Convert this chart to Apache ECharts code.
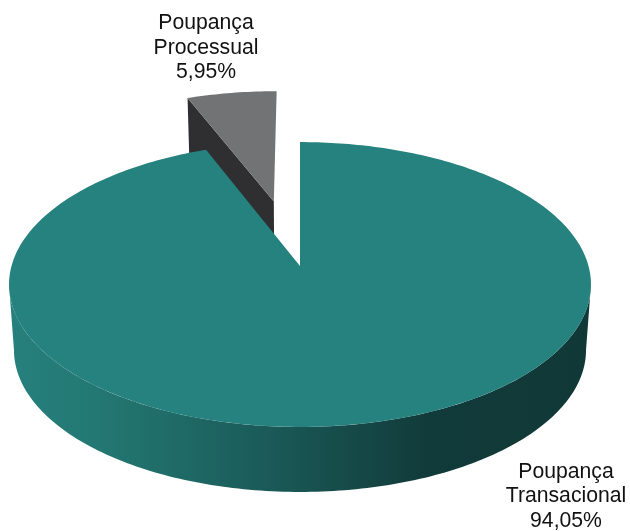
<!DOCTYPE html>
<html>
<head>
<meta charset="utf-8">
<style>html,body{margin:0;padding:0;background:#fff}#c{width:630px;height:531px}</style>
<script src="https://cdn.jsdelivr.net/npm/echarts@6/dist/echarts.min.js"></script>
</head>
<body>
<div id="c"></div>
<script>
// data
const categories = ['Poupança Processual', 'Poupança Transacional'];
const shares = [5.95, 94.05];
const exploded = [0.5, 0];

// colours
const faceColors = ['#727374', '#26827f'];
const cutColor = '#2f2f31';
const sideStops = [
  [0, '#26807c'], [0.15, '#237873'], [0.33, '#1e6663'], [0.5, '#185452'],
  [0.72, '#113b3a'], [1, '#103837']
];

// camera: perspective projection of the pie's top and bottom planes
const cam = { k: 0.13, cx: 300, topY: 266, topW: 288.5, topH: 140, botY: 331.5, botW: 283.6, botH: 139.6 };
function project(u, v, bottom) {
  const d = 1 + cam.k * v;
  return bottom
    ? [cam.cx + cam.botW * u / d, cam.botY - cam.botH * v / d]
    : [cam.cx + cam.topW * u / d, cam.topY - cam.topH * v / d];
}
const rad = a => a * Math.PI / 180;
function rim(a, off, bottom) {
  return project(off[0] + Math.sin(rad(a)), off[1] + Math.cos(rad(a)), bottom);
}
function arc(a0, a1, off, bottom) {
  const n = Math.max(2, Math.ceil(Math.abs(a1 - a0)));
  const out = [];
  for (let i = 0; i <= n; i++) out.push(rim(a0 + (a1 - a0) * i / n, off, bottom));
  return out;
}

const labelLayout = [[206, 48], [566, 496.5]];

function renderItem(params, api) {
  const i = params.dataIndex;
  const sweep = api.value(0) / 100 * 360;
  const children = [];
  if (i === 0) {
    // slice pulled out, running anticlockwise from twelve o'clock
    const m = rad(-sweep * 0.52);
    const off = [Math.sin(m) * exploded[i], Math.cos(m) * exploded[i]];
    children.push({ type: 'polygon', shape: { points: [
      rim(-sweep, off, false), project(off[0], off[1], false),
      project(off[0], off[1], true), rim(-sweep, off, true)
    ] }, style: { fill: cutColor } });
    children.push({ type: 'polygon', shape: { points:
      [project(off[0], off[1], false)].concat(arc(0, -sweep, off, false))
    }, style: { fill: faceColors[i] } });
  } else {
    // main body, running clockwise from twelve o'clock
    const off = [0, 0];
    const edge = Math.acos(-cam.k) * 180 / Math.PI;
    const top = arc(edge, 360 - edge, off, false);
    const bot = arc(360 - edge, edge, off, true);
    children.push({ type: 'polygon', shape: { points: top.concat(bot) }, style: {
      fill: new echarts.graphic.LinearGradient(0, 0, 1, 0,
        sideStops.map(s => ({ offset: s[0], color: s[1] })))
    } });
    children.push({ type: 'polygon', shape: { points:
      [project(0, 0, false)].concat(arc(0, sweep, off, false))
    }, style: { fill: faceColors[i] } });
  }
  const text = categories[i].replace(' ', '\n') + '\n' +
    api.value(0).toFixed(2).replace('.', ',') + '%';
  children.push({ type: 'text', z2: 10, style: {
    text, x: labelLayout[i][0], y: labelLayout[i][1], align: 'center', verticalAlign: 'middle',
    fontFamily: '"Liberation Sans", Arial, sans-serif', fontSize: 21.2, lineHeight: 24.5, fill: '#111'
  } });
  return { type: 'group', children };
}

const chart = echarts.init(document.getElementById('c'), null, { renderer: 'canvas' });
chart.setOption({
  animation: false,
  backgroundColor: '#fff',
  series: [{
    type: 'custom',
    coordinateSystem: 'none',
    silent: true,
    renderItem,
    data: shares.map((v, i) => ({ name: categories[i], value: [v] }))
  }]
});
</script>
</body>
</html>
